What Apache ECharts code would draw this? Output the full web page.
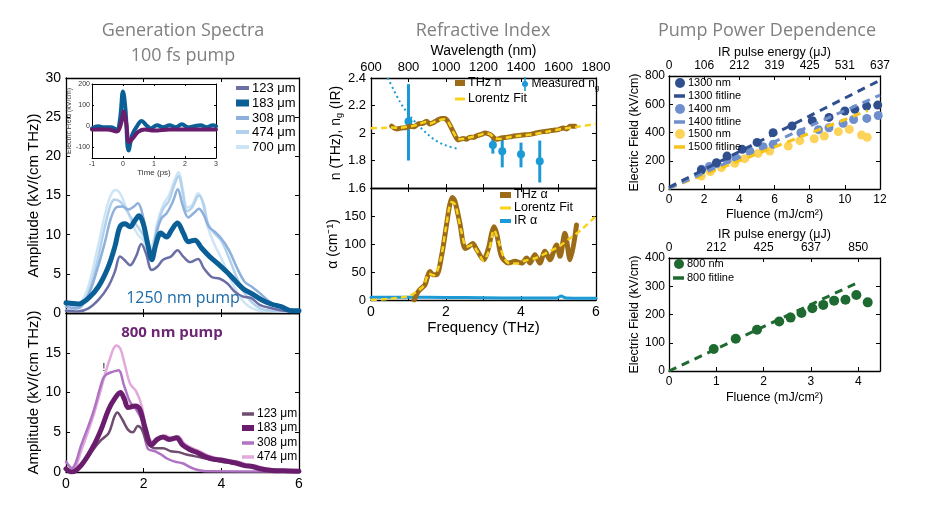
<!DOCTYPE html>
<html><head><meta charset="utf-8">
<script src="https://cdn.jsdelivr.net/npm/echarts@6/dist/echarts.min.js"></script>
<style>html,body{margin:0;padding:0;background:#fff}#c{width:928px;height:507px}</style>
</head><body><div id="c"></div>
<script>
// ================= DATA =================
// Generation spectra, 1250 nm pump  [frequency THz, amplitude kV/(cm THz)]
const spec1250_123 = [[0,0.3],[0.3,0.2],[0.58,0.6],[0.84,1.7],[1.09,3.4],[1.26,5.3],[1.39,7.2],[1.5,6.8],[1.65,6.1],[1.8,7.2],[1.94,8.8],[2.06,7.6],[2.21,5.5],[2.35,5.9],[2.5,6.8],[2.7,7.2],[2.87,8.0],[3.02,7.2],[3.2,6.5],[3.4,6.9],[3.55,5.7],[3.75,4.6],[3.95,4.4],[4.15,3.8],[4.35,2.7],[4.56,2.1],[4.77,1.9],[5.0,1.0],[5.3,0.6],[5.6,0.3],[6,0.2]];
const spec1250_183 = [[0,1.3],[0.32,1.15],[0.58,1.9],[0.84,3.4],[1.09,5.9],[1.26,8.5],[1.39,11.0],[1.52,11.4],[1.65,11.0],[1.76,11.7],[1.88,12.4],[1.99,11.4],[2.1,8.9],[2.21,6.8],[2.31,8.7],[2.44,10.2],[2.59,9.7],[2.72,10.6],[2.87,11.5],[3.02,10.2],[3.15,9.1],[3.32,9.3],[3.49,8.3],[3.7,7.2],[3.91,6.3],[4.17,5.1],[4.34,4.2],[4.56,3.1],[4.77,2.5],[5.03,1.7],[5.28,1.15],[5.54,0.8],[5.79,0.3],[6,0.3]];
const spec1250_308 = [[0,0.8],[0.3,0.6],[0.55,2.0],[0.8,5.5],[1.0,9.0],[1.15,12.0],[1.3,13.5],[1.45,13.6],[1.6,13.2],[1.75,13.6],[1.85,14.0],[1.95,13.0],[2.08,9.8],[2.2,7.0],[2.32,10.0],[2.45,12.0],[2.6,12.8],[2.75,14.2],[2.88,15.8],[3.0,13.8],[3.15,12.2],[3.3,12.8],[3.42,13.3],[3.55,12.5],[3.68,11.0],[3.85,10.3],[4.0,9.5],[4.2,8.0],[4.4,5.8],[4.6,4.0],[4.8,3.3],[5.0,2.5],[5.2,1.6],[5.4,1.0],[5.7,0.5],[6,0.3]];
const spec1250_474 = [[0,0.3],[0.3,0.6],[0.55,2.2],[0.8,6.5],[1.0,11.0],[1.15,13.8],[1.25,14.5],[1.4,14.2],[1.55,13.2],[1.7,12.0],[1.85,11.0],[2.0,9.8],[2.12,8.2],[2.22,8.0],[2.35,11.0],[2.5,13.3],[2.65,14.3],[2.8,16.5],[2.9,17.5],[3.0,15.5],[3.12,13.0],[3.25,13.5],[3.42,15.0],[3.55,13.8],[3.65,11.5],[3.8,10.3],[4.0,9.2],[4.2,7.0],[4.4,4.5],[4.6,2.5],[4.8,1.3],[5.0,0.6],[5.3,0.3],[6,0.2]];
const spec1250_700 = [[0,0.3],[0.3,0.8],[0.55,3.0],[0.8,8.0],[1.0,12.5],[1.15,15.0],[1.28,15.7],[1.4,15.2],[1.55,13.5],[1.7,11.5],[1.85,10.0],[2.0,9.2],[2.12,8.0],[2.22,8.6],[2.35,11.5],[2.5,13.8],[2.65,15.0],[2.8,17.0],[2.9,18.0],[3.0,16.0],[3.12,13.5],[3.25,13.8],[3.4,15.3],[3.5,14.5],[3.62,11.5],[3.8,9.0],[4.0,7.0],[4.2,4.8],[4.4,2.7],[4.6,1.3],[4.8,0.6],[5.0,0.3],[6,0.2]];
// Generation spectra, 800 nm pump
const spec800_123 = [[0,0.3],[0.15,0],[0.4,0.8],[0.7,2.8],[0.9,4.0],[1.1,4.9],[1.25,7.0],[1.32,7.5],[1.45,6.6],[1.6,5.3],[1.72,5.0],[1.85,5.8],[1.95,5.4],[2.1,3.6],[2.3,3.0],[2.5,3.0],[2.7,2.6],[2.9,2.5],[3.1,2.2],[3.3,2.0],[3.5,1.8],[3.7,1.6],[4.0,1.3],[4.3,1.1],[4.6,0.8],[5.0,0.4],[5.5,0.2],[6,0.1]];
const spec800_183 = [[0,0.4],[0.15,0],[0.4,0.9],[0.7,3.2],[0.9,5.3],[1.1,7.9],[1.25,9.2],[1.4,10.0],[1.5,9.2],[1.6,8.1],[1.78,8.3],[1.9,7.9],[2.05,5.3],[2.2,3.4],[2.35,4.1],[2.5,4.4],[2.65,4.1],[2.85,4.3],[3.0,3.4],[3.2,2.8],[3.4,2.4],[3.6,1.9],[3.8,1.6],[4.0,1.5],[4.2,1.3],[4.4,1.1],[4.6,0.8],[4.8,0.7],[5.0,0.4],[5.3,0.2],[5.6,0.15],[6,0.1]];
const spec800_308 = [[0,1.3],[0.15,0.5],[0.4,3.5],[0.7,7.5],[0.95,11.7],[1.05,12.3],[1.2,12.6],[1.35,12.8],[1.5,10.8],[1.65,8.8],[1.8,7.9],[1.95,6.5],[2.1,3.0],[2.3,2.6],[2.45,2.2],[2.6,1.7],[2.8,1.3],[3.0,1.1],[3.2,0.6],[3.4,0.25],[3.6,0.1],[6,0.05]];
const spec800_474 = [[0,0.3],[0.15,0],[0.4,2.8],[0.7,7.0],[0.9,10.4],[1.1,13.8],[1.3,15.9],[1.4,15.5],[1.5,13.8],[1.65,11.1],[1.8,10.2],[1.95,8.3],[2.1,4.5],[2.25,3.8],[2.4,4.3],[2.55,4.6],[2.7,4.3],[2.88,4.5],[3.05,3.6],[3.25,3.0],[3.45,2.6],[3.65,2.1],[3.85,1.8],[4.05,1.6],[4.3,1.4],[4.5,1.2],[4.7,0.9],[4.9,0.8],[5.1,0.5],[5.4,0.3],[6,0.2]];
// Inset: time-domain field [ps, kV/cm]
const insetBlue = [[-1,-10],[-0.8,0],[-0.6,-5],[-0.4,-5],[-0.2,-15],[-0.1,30],[0,165],[0.08,80],[0.18,-115],[0.3,-40],[0.45,0],[0.6,25],[0.75,5],[0.9,-10],[1.1,5],[1.3,-5],[1.5,5],[1.7,-5],[1.9,10],[2.1,-5],[2.3,0],[2.5,5],[2.7,-5],[2.9,5],[3,0]];
const insetPurple = [[-1,-15],[-0.5,-15],[-0.2,-25],[-0.05,20],[0.02,70],[0.1,20],[0.2,-75],[0.35,-50],[0.5,-25],[0.7,-15],[1,-20],[1.5,-15],[2,-15],[2.5,-15],[3,-15]];
// Refractive index [THz, n]
const thzN = [[0.55,2.05],[0.68,2.03],[0.82,2.036],[0.95,2.04],[1.04,2.05],[1.15,2.045],[1.26,2.066],[1.38,2.07],[1.48,2.085],[1.57,2.066],[1.66,2.075],[1.75,2.09],[1.88,2.105],[1.97,2.105],[2.06,2.08],[2.2,2.005],[2.33,1.95],[2.46,1.96],[2.55,1.955],[2.64,1.97],[2.75,1.97],[2.82,1.98],[2.95,1.99],[3.04,2.0],[3.17,1.99],[3.26,1.97],[3.33,1.955],[3.4,1.956],[3.5,1.965],[3.62,1.968],[3.75,1.975],[3.88,1.98],[4.05,1.985],[4.24,1.99],[4.4,2.0],[4.6,2.01],[4.75,2.015],[4.86,2.02],[5.0,2.025],[5.13,2.037],[5.22,2.03],[5.31,2.05],[5.44,2.05]];
const lorN = [[0,2.035],[0.3,2.037],[0.55,2.04],[0.75,2.038],[0.95,2.045],[1.1,2.05],[1.26,2.062],[1.45,2.08],[1.57,2.068],[1.75,2.087],[1.95,2.1],[2.06,2.08],[2.2,2.005],[2.33,1.955],[2.5,1.958],[2.7,1.972],[2.9,1.985],[3.05,1.998],[3.18,1.99],[3.3,1.962],[3.42,1.957],[3.6,1.966],[3.9,1.978],[4.3,1.99],[4.7,2.01],[5.1,2.03],[5.5,2.045],[6,2.065]];
// Measured group index vs wavelength [nm]
const ngModel = [[690,2.40],[753,2.23],[801,2.135],[868,2.035],[940,1.95],[1000,1.91],[1061,1.885]];
const ngWl  = [800, 1250, 1300, 1400, 1500];
const ngVal = [2.083, 1.912, 1.868, 1.845, 1.795];
const ngLo  = [1.80, 1.85, 1.75, 1.75, 1.64];
const ngHi  = [2.355, 1.97, 1.97, 1.93, 1.945];
// Absorption [THz, cm^-1]
const thzAlpha = [[1.15,0],[1.26,15],[1.36,22],[1.44,27],[1.5,40],[1.57,51],[1.66,45],[1.75,45],[1.88,78],[2.02,137],[2.1,170],[2.17,183],[2.24,176],[2.37,137],[2.51,92],[2.6,95],[2.71,101],[2.82,90],[3.0,72],[3.13,92],[3.22,120],[3.28,131],[3.35,119],[3.48,78],[3.66,66],[3.84,69],[4.02,66],[4.15,75],[4.24,66],[4.37,81],[4.5,66],[4.64,87],[4.77,72],[4.95,98],[5.04,78],[5.17,119],[5.31,72],[5.48,134]];
const lorAlpha = [[0,0],[0.5,2],[1.0,7],[1.2,14],[1.4,25],[1.55,47],[1.68,44],[1.85,70],[2.0,130],[2.15,175],[2.25,170],[2.4,125],[2.55,95],[2.7,98],[2.85,85],[3.0,70],[3.15,90],[3.28,125],[3.4,105],[3.55,75],[3.7,65],[3.9,65],[4.1,70],[4.4,75],[4.7,85],[5.0,95],[5.3,110],[5.6,125],[6.0,150]];
const irAlpha = [[0,5],[1,5],[2,4.5],[3,4],[4,3.5],[4.95,3.5],[5.07,7],[5.2,3.5],[6,3]];
// Pump power dependence [mJ/cm^2, kV/cm]
const fl1300 = [[1.84,134],[2.70,186],[3.30,233],[4.16,281],[5.01,330],[5.92,399],[7.0,446],[8.15,483],[9.1,507],[10.0,552],[10.57,564],[11.24,587],[11.87,594]];
const fl1400 = [[1.85,140],[2.3,160],[2.7,178],[3.3,205],[3.8,222],[4.6,268],[5.35,300],[5.92,316],[7.5,398],[8.5,420],[9.1,434],[9.9,465],[10.5,492],[11.25,500],[11.9,520]];
const fl1500 = [[1.84,92],[2.35,123],[2.98,151],[3.74,182],[4.31,215],[5.07,252],[5.73,269],[6.78,304],[7.44,342],[8.26,356],[8.83,375],[9.63,406],[10.25,422],[10.95,382],[11.27,366]];
const fit1300 = [[0,12],[12,770]];
const fit1400 = [[0,5],[12,665]];
const fit1500 = [[0,5],[11.3,555]];
const fl800  = [[0.945,78],[1.41,114],[1.86,146],[2.33,175],[2.57,189],[2.8,205],[3.03,222],[3.26,234],[3.49,249],[3.73,252],[3.96,269],[4.2,243]];
const fit800 = [[0,0],[4.04,317]];
// Tick labels
const energyTop = ['0','106','212','319','425','531','637'];
const energyBottom = ['0','212','425','637','850'];
const energyBottomAt = [0,1,2,3,4];

// ================= LAYOUT / STYLE =================
const LBL = {
  t123:'123 μm', t183:'183 μm', t308:'308 μm', t474:'474 μm', t700:'700 μm',
  b123:'123 μm', b183:'183 μm', b308:'308 μm', b474:'474 μm',
  thzn:'THz n', lorn:'Lorentz Fit', ng:'Measured n{s|g}',
  thza:'THz α', lora:'Lorentz Fit', ira:'IR α',
  s1300:'1300 nm', f1300:'1300 fitline', s1400:'1400 nm', f1400:'1400 fitline', s1500:'1500 nm', f1500:'1500 fitline',
  s800:'800 nm', f800:'800 fitline'
};
const C = {
  t123:'#6b6fa5', t183:'#0a5f97', t308:'#8eb0dc', t474:'#b2d1ec', t700:'#cde5f5',
  b123:'#6f4d6f', b183:'#6a1d6c', b308:'#b072c2', b474:'#e2a9da',
  brown:'#9b6b17', yellow:'#f8d31b', blue:'#1b9ad6',
  c1300:'#2f4f8f', c1400:'#6f8fcc', c1500:'#fdd35a', c1500f:'#f6c51a', c800:'#1e6a30'
};

const grids = [
  {left:66, top:78, width:233, height:235},
  {left:66, top:313, width:233, height:159},
  {left:92, top:84, width:124, height:74, show:true, backgroundColor:'#fff', borderWidth:0},
  {left:371, top:78, width:225, height:110},
  {left:371, top:188, width:225, height:112},
  {left:669, top:76, width:211, height:113},
  {left:669, top:258, width:211, height:113}
].map(g => Object.assign({outerBoundsMode:'none', containLabel:false}, g));

function merge(a,b){ for(const k in b){ const v=b[k]; if(v && typeof v==='object' && !Array.isArray(v) && typeof v!=='function' && a[k] && typeof a[k]==='object'){ merge(a[k],v);} else a[k]=v; } return a; }
function base(){ return {type:'value', axisLine:{show:true,onZero:false,lineStyle:{color:'#000',width:1.3}}, axisTick:{show:true,inside:true,length:4,lineStyle:{color:'#000',width:1}}, splitLine:{show:false}, axisLabel:{show:false,color:'#000',fontSize:14,margin:5}, nameTextStyle:{color:'#000'}, nameLocation:'middle'}; }
const xAxis=[], yAxis=[];
function X(o){ xAxis.push(merge(base(),o)); return xAxis.length-1; }
function Y(o){ yAxis.push(merge(base(),o)); return yAxis.length-1; }

// panel 0: spectra 1250
const x0 = X({gridIndex:0,min:0,max:6,interval:2,position:'bottom'});
X({gridIndex:0,min:0,max:6,interval:2,position:'top'});
const y0 = Y({gridIndex:0,min:0,max:30,interval:5,position:'left',axisLabel:{show:true,fontSize:14},name:'Amplitude (kV/(cm THz))',nameGap:21,nameTextStyle:{fontSize:15}});
Y({gridIndex:0,min:0,max:30,interval:5,position:'right'});
// panel 1: spectra 800
const x1 = X({gridIndex:1,min:0,max:6,interval:2,position:'bottom',axisLabel:{show:true,fontSize:14,margin:5}});
X({gridIndex:1,min:0,max:6,interval:2,position:'top'});
const y1 = Y({gridIndex:1,min:0,max:20,interval:5,position:'left',axisLabel:{show:true,fontSize:14,formatter:v=>v===20?'':String(v)},name:'Amplitude (kV/(cm THz))',nameGap:21,nameTextStyle:{fontSize:15}});
Y({gridIndex:1,min:0,max:20,interval:5,position:'right'});
// panel 2: inset
const insetTicks=[-100,0,100,200];
const x2 = X({gridIndex:2,min:-1,max:3,interval:1,position:'bottom',axisLine:{lineStyle:{width:1}},axisTick:{length:2},axisLabel:{show:true,fontSize:7,margin:3,color:'#333'},name:'Time (ps)',nameGap:11,nameTextStyle:{fontSize:8,color:'#333'}});
X({gridIndex:2,min:-1,max:3,interval:1,position:'top',axisLine:{lineStyle:{width:1}},axisTick:{length:2}});
const y2 = Y({gridIndex:2,min:-150,max:200,position:'left',axisLine:{lineStyle:{width:1}},axisTick:{length:2,customValues:insetTicks},axisLabel:{show:true,fontSize:7,margin:2,color:'#333',customValues:insetTicks},name:'Electric Field (kV/cm)',nameGap:15,nameTextStyle:{fontSize:7,color:'#333'}});
Y({gridIndex:2,min:-150,max:200,position:'right',axisLine:{lineStyle:{width:1}},axisTick:{length:2,customValues:insetTicks}});
// panel 3: refractive index
const x3 = X({gridIndex:3,min:0,max:6,interval:1,position:'bottom'});
const xW = X({gridIndex:3,min:600,max:1800,interval:200,position:'top',axisLabel:{show:true,fontSize:13,margin:4,formatter:v=>String(v)},name:'Wavelength (nm)',nameGap:20,nameTextStyle:{fontSize:14}});
const y3 = Y({gridIndex:3,min:1.6,max:2.4,interval:0.2,position:'left',axisLabel:{show:true,fontSize:13,margin:5},name:'n (THz), n{s|g} (IR)',nameGap:23,nameTextStyle:{fontSize:14,rich:{s:{fontSize:9,color:'#000',padding:[6,0,0,0]}}}});
Y({gridIndex:3,min:1.6,max:2.4,interval:0.2,position:'right'});
// panel 4: absorption
const x4 = X({gridIndex:4,min:0,max:6,interval:1,position:'bottom',axisLabel:{show:true,fontSize:14,margin:5,formatter:v=>v%2===0?String(v):''},name:'Frequency (THz)',nameGap:17,nameTextStyle:{fontSize:15}});
X({gridIndex:4,min:0,max:6,interval:1,position:'top'});
const y4 = Y({gridIndex:4,min:0,max:200,interval:50,position:'left',axisLabel:{show:true,fontSize:13,margin:5,formatter:v=>v===200?'':String(v)},name:'α (cm⁻¹)',nameGap:23,nameTextStyle:{fontSize:14}});
Y({gridIndex:4,min:0,max:200,interval:50,position:'right'});
// panel 5: pump power 1300-1500
const x5 = X({gridIndex:5,min:0,max:12,interval:2,position:'bottom',axisLabel:{show:true,fontSize:12,margin:5},name:'Fluence (mJ/cm²)',nameGap:19,nameTextStyle:{fontSize:12.5}});
X({gridIndex:5,min:0,max:12,interval:2,position:'top',axisLabel:{show:true,fontSize:12,margin:4,formatter:v=>energyTop[Math.round(v/2)]},name:'IR pulse energy (μJ)',nameGap:17,nameTextStyle:{fontSize:12.5}});
const y5 = Y({gridIndex:5,min:0,max:800,interval:200,position:'left',axisLabel:{show:true,fontSize:12,margin:4},name:'Electric Field (kV/cm)',nameGap:25,nameTextStyle:{fontSize:12.5}});
Y({gridIndex:5,min:0,max:800,interval:200,position:'right'});
// panel 6: pump power 800
const x6 = X({gridIndex:6,min:0,max:4.46,position:'bottom',axisTick:{customValues:energyBottomAt},axisLabel:{show:true,fontSize:12,margin:5,customValues:energyBottomAt},name:'Fluence (mJ/cm²)',nameGap:20,nameTextStyle:{fontSize:12.5}});
X({gridIndex:6,min:0,max:4.46,position:'top',axisTick:{customValues:energyBottomAt},axisLabel:{show:true,fontSize:12,margin:4,customValues:energyBottomAt,formatter:v=>energyBottom[Math.round(v)]},name:'IR pulse energy (μJ)',nameGap:17,nameTextStyle:{fontSize:12.5}});
const y6 = Y({gridIndex:6,min:0,max:400,interval:100,position:'left',axisLabel:{show:true,fontSize:12,margin:4},name:'Electric Field (kV/cm)',nameGap:25,nameTextStyle:{fontSize:12.5}});
Y({gridIndex:6,min:0,max:400,interval:100,position:'right'});

// ================= SERIES =================
function line(name,data,xi,yi,color,width,extra){
  return merge({type:'line',name,data,xAxisIndex:xi,yAxisIndex:yi,color,showSymbol:false,symbol:'none',smooth:0.35,lineStyle:{width,color,cap:'round',join:'round'},emphasis:{disabled:true},silent:true}, extra||{});
}
function scat(name,data,xi,yi,color,size){
  return {type:'scatter',name,data,xAxisIndex:xi,yAxisIndex:yi,color,symbolSize:size,itemStyle:{color,opacity:1},emphasis:{disabled:true},silent:true};
}
const dash = (w)=>({smooth:false,lineStyle:{type:[w*2.7,w*2],cap:'butt'}});
const series = [
  line('t700',spec1250_700,x0,y0,C.t700,2.5),
  line('t474',spec1250_474,x0,y0,C.t474,2.5),
  line('t308',spec1250_308,x0,y0,C.t308,2.5),
  line('t123',spec1250_123,x0,y0,C.t123,2.5),
  line('t183',spec1250_183,x0,y0,C.t183,5),
  line('b474',spec800_474,x1,y1,C.b474,2.5),
  line('b308',spec800_308,x1,y1,C.b308,2.5),
  line('b123',spec800_123,x1,y1,C.b123,2.5),
  line('b183',spec800_183,x1,y1,C.b183,5),
  line('inB',insetBlue,x2,y2,C.t183,4,{smooth:0.4}),
  line('inP',insetPurple,x2,y2,C.b183,4,{smooth:0.4}),
  line('ngm',ngModel,xW,y3,C.blue,2,{lineStyle:{type:[2,3],cap:'butt'}}),
  {type:'custom',name:'ngerr',xAxisIndex:xW,yAxisIndex:y3,silent:true,
   data: ngWl.map((w,i)=>[w,ngLo[i],ngHi[i]]),
   encode:{x:0,y:[1,2]},
   renderItem:(p,api)=>{const a=api.coord([api.value(0),api.value(1)]),b=api.coord([api.value(0),api.value(2)]);
     return {type:'line',shape:{x1:a[0],y1:a[1],x2:b[0],y2:b[1]},style:{stroke:C.blue,lineWidth:3}};}},
  scat('ng',ngWl.map((w,i)=>[w,ngVal[i]]),xW,y3,C.blue,8),
  line('thzn',thzN,x3,y3,C.brown,5,{smooth:0.3}),
  line('lorn',lorN,x3,y3,C.yellow,2.5,{smooth:0.3,lineStyle:{type:[6,4],cap:'butt'}}),
  line('ira',irAlpha,x4,y4,C.blue,3,{smooth:0.2}),
  line('thza',thzAlpha,x4,y4,C.brown,5,{smooth:0.3}),
  line('lora',lorAlpha,x4,y4,C.yellow,2.5,{smooth:0.3,lineStyle:{type:[6,4],cap:'butt'}}),
  scat('s1500',fl1500,x5,y5,C.c1500,9),
  scat('s1400',fl1400,x5,y5,C.c1400,9),
  scat('s1300',fl1300,x5,y5,C.c1300,9),
  line('f1500',fit1500,x5,y5,C.c1500f,3,dash(3)),
  line('f1400',fit1400,x5,y5,C.c1400,3,dash(3)),
  line('f1300',fit1300,x5,y5,C.c1300,3,dash(3)),
  scat('s800',fl800,x6,y6,C.c800,10),
  line('f800',fit800,x6,y6,C.c800,3,dash(3))
];

// ================= LEGENDS =================
function leg(name,left,yc,o){
  const fs=o.fs||12, L=o.L||fs+2;
  const it={name}; if(o.icon) it.icon=o.icon;
  return {show:true,orient:'horizontal',left,top:yc-L/2,padding:0,itemGap:0,itemWidth:o.w,itemHeight:o.h,
    icon:o.icon||'rect',selectedMode:false,data:[it],formatter:n=>LBL[n],
    textStyle:{fontSize:fs,lineHeight:L,color:'#000',fontFamily:'Liberation Sans',padding:[0,0,0,-2],rich:o.rich||{}}};
}
const legends = [];
['t123','t183','t308','t474','t700'].forEach((n,i)=>legends.push(leg(n,236,[88,103,118,132,147][i],{w:13,h:n==='t183'?7:4,fs:13,L:14})));
['b123','b183','b308','b474'].forEach((n,i)=>legends.push(leg(n,242,[414,428,443,457][i],{w:12,h:n==='b183'?6:3.5,fs:12,L:13})));
legends.push(leg('thzn',455,83,{w:10,h:6,fs:12.5}));
legends.push(leg('lorn',455,99,{w:10,h:3,fs:12.5}));
legends.push(leg('ng',522,84,{w:7,h:14,fs:12,L:15,icon:'path://M7,7 A3,3 0 1 1 1,7 A3,3 0 1 1 7,7 Z M3.2,0 L4.8,0 L4.8,14 L3.2,14 Z',rich:{s:{fontSize:8,color:'#000',padding:[7,0,0,0]}}}));
legends.push(leg('thza',500,195,{w:11,h:6,fs:12.5}));
legends.push(leg('lora',500,208,{w:11,h:3,fs:12.5}));
legends.push(leg('ira',500,221,{w:11,h:4,fs:12.5}));
['s1300','f1300','s1400','f1400','s1500','f1500'].forEach((n,i)=>{
  const isS=n[0]==='s';
  legends.push(leg(n,isS?675:674,[83,96,109,122,134,147][i],{w:isS?10:11,h:isS?10:3.5,fs:11,L:12,icon:isS?'circle':'rect'}));
});
legends.push(leg('s800',674,264,{w:10,h:10,fs:11,L:12,icon:'circle'}));
legends.push(leg('f800',673,278,{w:11,h:3.5,fs:11,L:12}));

// ================= TEXT =================
function txt(text,x,y,size,fill,extra){
  return {type:'text',x,y,silent:true,z:100,style:Object.assign({text,fontSize:size,fontFamily:'Open Sans',fill,align:'center',verticalAlign:'middle'},extra||{})};
}
const graphic = [
  txt('Generation Spectra',183,31,18,'#808080'),
  txt('100 fs pump',183,56,18,'#808080'),
  txt('Refractive Index',483,31,18,'#808080'),
  txt('Pump Power Dependence',767,31,18,'#808080'),
  txt('1250 nm pump',183,298,16,'#1b6aa5'),
  txt('800 nm pump',172,333,15,'#6d2673',{fontWeight:'bold'}),
  txt('!',104,368,10,'#000',{fontFamily:'Liberation Sans'})
];

const chart = echarts.init(document.getElementById('c'), null, {renderer:'canvas'});
chart.setOption({
  animation:false,
  backgroundColor:'#fff',
  textStyle:{fontFamily:'Liberation Sans'},
  tooltip:{show:false},
  grid:grids, xAxis, yAxis, legend:legends, graphic, series
});
</script></body></html>
